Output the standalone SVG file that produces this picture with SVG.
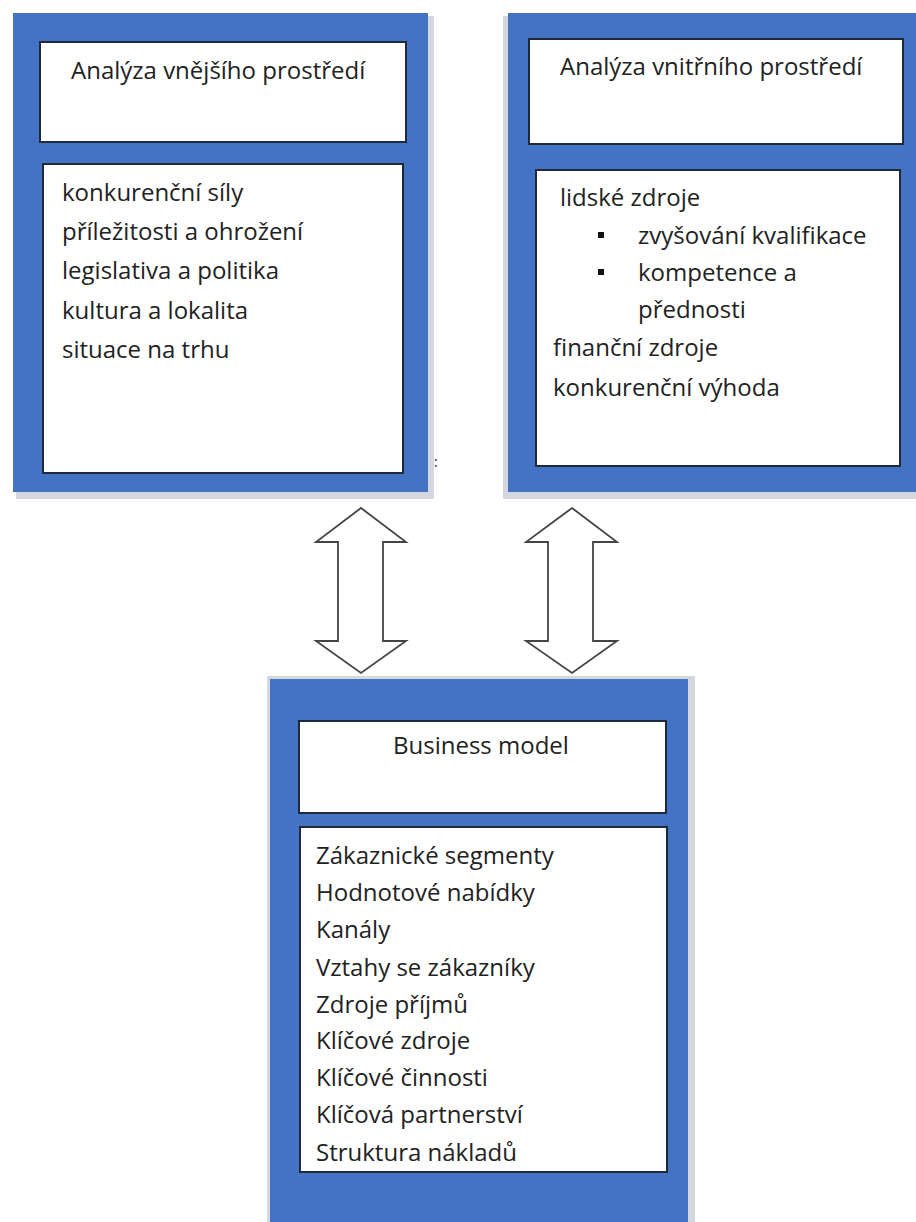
<svg xmlns="http://www.w3.org/2000/svg" width="916" height="1222" viewBox="0 0 916 1222">
<style>
.shadow{fill:#d4d8de}
.panel{fill:#4472C4}
.inner{fill:#ffffff;stroke:#1e2a38;stroke-width:2}
.t{font-family:"Open Sans","Liberation Sans",Arial,sans-serif;font-size:24px;fill:#222222}
.arrow{fill:#ffffff;stroke:#444444;stroke-width:1.8;stroke-linejoin:miter}
</style>
<rect width="916" height="1222" fill="#ffffff"/>
<g id="vnejsi">
<rect class="shadow" x="16" y="16" width="418" height="483"/>
<rect class="panel" x="13" y="13" width="415" height="479"/>
<rect class="inner" x="40" y="42" width="366" height="100"/>
<rect class="inner" x="43" y="164" width="360" height="309"/>
<text class="t" x="71" y="79">Analýza vnějšího prostředí</text>
<text class="t" x="62" y="201">konkurenční síly</text>
<text class="t" x="62" y="240">příležitosti a ohrožení</text>
<text class="t" x="62" y="279">legislativa a politika</text>
<text class="t" x="62" y="319">kultura a lokalita</text>
<text class="t" x="62" y="358">situace na trhu</text>
</g>
<text class="t" x="434" y="467" style="font-size:14px">:</text>
<g id="vnitrni">
<rect class="shadow" x="503" y="16" width="413" height="483"/>
<rect class="panel" x="508" y="13" width="408" height="479"/>
<rect class="inner" x="529" y="39" width="374" height="105"/>
<rect class="inner" x="536" y="170" width="364" height="296"/>
<text class="t" x="560" y="75">Analýza vnitřního prostředí</text>
<text class="t" x="560" y="206">lidské zdroje</text>
<rect x="598" y="232" width="6" height="6" fill="#111"/>
<text class="t" x="638" y="244">zvyšování kvalifikace</text>
<rect x="598" y="269" width="6" height="6" fill="#111"/>
<text class="t" x="638" y="281">kompetence a</text>
<text class="t" x="638" y="318">přednosti</text>
<text class="t" x="553" y="356">finanční zdroje</text>
<text class="t" x="553" y="396">konkurenční výhoda</text>
</g>
<g id="business">
<rect class="shadow" x="267" y="676" width="428" height="546"/>
<rect class="panel" x="270" y="679" width="418" height="543"/>
<rect class="inner" x="299" y="721" width="367" height="92"/>
<rect class="inner" x="300" y="827" width="367" height="345"/>
<text class="t" x="393" y="754">Business model</text>
<text class="t" x="316" y="864">Zákaznické segmenty</text>
<text class="t" x="316" y="901">Hodnotové nabídky</text>
<text class="t" x="316" y="938">Kanály</text>
<text class="t" x="316" y="976">Vztahy se zákazníky</text>
<text class="t" x="316" y="1013">Zdroje příjmů</text>
<text class="t" x="316" y="1049">Klíčové zdroje</text>
<text class="t" x="316" y="1086">Klíčové činnosti</text>
<text class="t" x="316" y="1123">Klíčová partnerství</text>
<text class="t" x="316" y="1161">Struktura nákladů</text>
</g>
<g id="connectors">
<polygon class="arrow" points="361,508 406,542 383,542 383,641 406,641 361,673 316,641 338,641 338,542 316,542"/>
<polygon class="arrow" points="572,508 617,542 593,542 593,641 617,641 572,673 526,641 548,641 548,542 526,542"/>
</g>
</svg>
